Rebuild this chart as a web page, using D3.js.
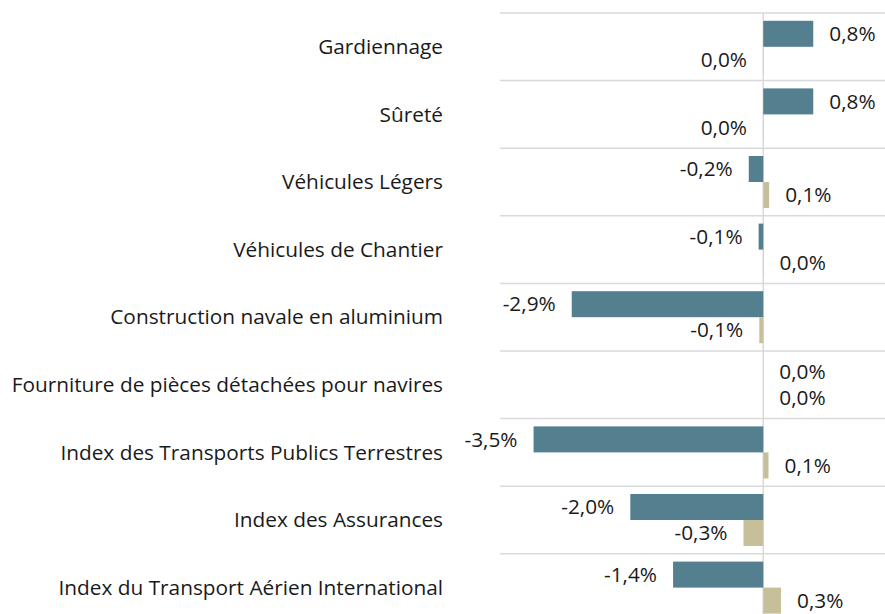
<!DOCTYPE html>
<html><head><meta charset="utf-8">
<script src="https://cdn.jsdelivr.net/npm/d3@7"></script>
<style>
html,body{margin:0;padding:0;background:#fff;}
svg{display:block;font-family:"Open Sans",sans-serif;}
</style></head>
<body>
<svg id="chart" width="885" height="614"></svg>
<script>
const categories = [
  "Gardiennage",
  "Sûreté",
  "Véhicules Légers",
  "Véhicules de Chantier",
  "Construction navale en aluminium",
  "Fourniture de pièces détachées pour navires",
  "Index des Transports Publics Terrestres",
  "Index des Assurances",
  "Index du Transport Aérien International"
];
const seriesNames = ["s1", "s2"];
const series1 = [0.76, 0.76, -0.22, -0.07, -2.91, 0.0, -3.49, -2.02, -1.37];
const series2 = [-0.004, -0.004, 0.09, 0.004, -0.06, 0.0, 0.08, -0.30, 0.27];
const colors = ["#547f8e", "#c6bf9a"];

const W = 885, H = 614;
const svg = d3.select("#chart");
const fontSize = 20.8;

const x = d3.scaleLinear().domain([-4, 1.85]).range([500, 885]);
const y = d3.scaleBand().domain(categories).range([13, 13 + 9 * 67.6]).paddingInner(0).paddingOuter(0);
const ySub = d3.scaleBand().domain(seriesNames).range([0, y.bandwidth()]).paddingInner(0).paddingOuter(0.3);

const fmt = v => {
  const r = Math.round(v * 10) / 10;
  const s = (r === 0 ? 0 : r).toFixed(1).replace(".", ",");
  return s + "%";
};

// gridlines at band boundaries
const bounds = categories.map(c => y(c)).concat([y(categories[categories.length - 1]) + y.bandwidth()]);
svg.append("g").selectAll("line").data(bounds).join("line")
  .attr("x1", 500).attr("x2", W)
  .attr("y1", d => d).attr("y2", d => d)
  .attr("stroke", "#d9d9d9").attr("stroke-width", 1.5);

// zero line
svg.append("line")
  .attr("x1", x(0)).attr("x2", x(0))
  .attr("y1", 13).attr("y2", H)
  .attr("stroke", "#d9d9d9").attr("stroke-width", 1.5);

const data = [];
categories.forEach((c, i) => {
  data.push({cat: c, s: "s1", v: series1[i], color: colors[0]});
  data.push({cat: c, s: "s2", v: series2[i], color: colors[1]});
});

svg.append("g").selectAll("rect").data(data).join("rect")
  .attr("x", d => Math.min(x(0), x(d.v)))
  .attr("y", d => y(d.cat) + ySub(d.s))
  .attr("width", d => Math.abs(x(d.v) - x(0)))
  .attr("height", ySub.bandwidth())
  .attr("fill", d => d.color);

// value labels
svg.append("g").selectAll("text").data(data).join("text")
  .attr("x", d => d.v < 0 ? x(d.v) - 16 : x(d.v) + 16)
  .attr("y", d => y(d.cat) + ySub(d.s) + ySub.bandwidth() / 2)
  .attr("dy", "0.35em")
  .attr("text-anchor", d => d.v < 0 ? "end" : "start")
  .attr("font-size", fontSize)
  .attr("fill", "#1a1a1a")
  .text(d => fmt(d.v));

// category labels
svg.append("g").selectAll("text").data(categories).join("text")
  .attr("x", 443)
  .attr("y", d => y(d) + y.bandwidth() / 2)
  .attr("dy", "0.35em")
  .attr("text-anchor", "end")
  .attr("font-size", fontSize)
  .attr("fill", "#1a1a1a")
  .text(d => d);
</script>
</body></html>
